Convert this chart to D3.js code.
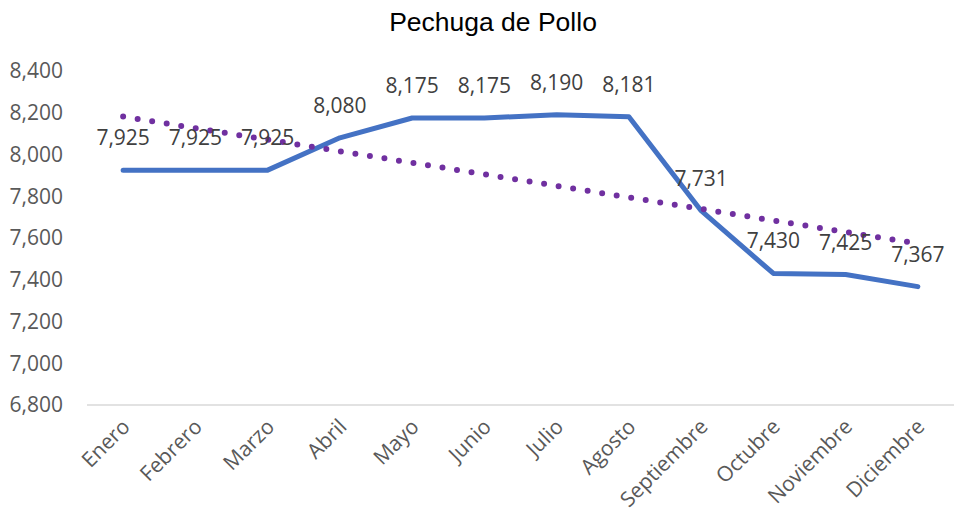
<!DOCTYPE html>
<html>
<head>
<meta charset="utf-8">
<script src="https://cdn.jsdelivr.net/npm/d3@7"></script>
<style>
  body { margin: 0; background: #fff; }
  svg { display: block; }
</style>
</head>
<body>
<svg id="chart"></svg>
<script>
var width = 954;
var height = 512;

var months = ["Enero", "Febrero", "Marzo", "Abril", "Mayo", "Junio", "Julio",
  "Agosto", "Septiembre", "Octubre", "Noviembre", "Diciembre"];
var prices = [7925, 7925, 7925, 8080, 8175, 8175, 8190, 8181, 7731, 7430, 7425, 7367];
var yTicks = [6800, 7000, 7200, 7400, 7600, 7800, 8000, 8200, 8400];

var margin = { top: 71, right: 0, bottom: 107, left: 87 };

var svg = d3.select("#chart")
  .attr("width", width)
  .attr("height", height);

var x = d3.scaleBand()
  .domain(months)
  .range([margin.left, width]);

var y = d3.scaleLinear()
  .domain([6800, 8400])
  .range([height - margin.bottom, margin.top]);

var fmt = d3.format(",");

// title
svg.append("text")
  .attr("x", 493)
  .attr("y", 31)
  .attr("text-anchor", "middle")
  .style("font-family", "'Liberation Sans', Arial, sans-serif")
  .style("font-size", "26.5px")
  .style("fill", "#000")
  .text("Pechuga de Pollo");

// y axis labels
svg.append("g")
  .selectAll("text")
  .data(yTicks)
  .enter()
  .append("text")
  .attr("x", 63)
  .attr("y", function (d) { return y(d); })
  .attr("dy", "0.35em")
  .attr("text-anchor", "end")
  .style("font-family", "'Open Sans', sans-serif")
  .style("font-size", "21px")
  .style("fill", "#595959")
  .text(function (d) { return fmt(d); });

// baseline
svg.append("line")
  .attr("x1", margin.left)
  .attr("x2", width)
  .attr("y1", y(6800))
  .attr("y2", y(6800))
  .attr("stroke", "#d9d9d9")
  .attr("stroke-width", 1.5);

// x labels
svg.append("g")
  .selectAll("text")
  .data(months)
  .enter()
  .append("text")
  .attr("text-anchor", "end")
  .attr("transform", function (d) {
    var cx = x(d) + x.bandwidth() / 2 + 8;
    return "translate(" + cx + "," + 428 + ") rotate(-45)";
  })
  .style("font-family", "'Open Sans', sans-serif")
  .style("font-size", "21px")
  .style("fill", "#595959")
  .text(function (d) { return d; });

var cxOf = function (i) { return x(months[i]) + x.bandwidth() / 2; };

// price line
var line = d3.line()
  .x(function (d, i) { return cxOf(i); })
  .y(function (d) { return y(d); });

svg.append("path")
  .datum(prices)
  .attr("d", line)
  .attr("fill", "none")
  .attr("stroke", "#4472C4")
  .attr("stroke-width", 5)
  .attr("stroke-linecap", "round")
  .attr("stroke-linejoin", "round");

// linear trendline (least squares over the months)
var n = prices.length;
var meanX = (n + 1) / 2;
var meanY = d3.mean(prices);
var sxy = d3.sum(prices, function (d, i) { return (i + 1 - meanX) * (d - meanY); });
var sxx = d3.sum(prices, function (d, i) { return (i + 1 - meanX) * (i + 1 - meanX); });
var slope = sxy / sxx;
var trend = [0, n - 1].map(function (i) {
  return { i: i, v: meanY + slope * (i + 1 - meanX) };
});

svg.append("path")
  .datum(trend)
  .attr("d", d3.line()
    .x(function (d) { return cxOf(d.i); })
    .y(function (d) { return y(d.v); }))
  .attr("fill", "none")
  .attr("stroke", "#7030A0")
  .attr("stroke-width", 6)
  .attr("stroke-linecap", "round")
  .attr("stroke-dasharray", "0 14.7");

// data labels
svg.append("g")
  .selectAll("text")
  .data(prices)
  .enter()
  .append("text")
  .attr("x", function (d, i) { return cxOf(i); })
  .attr("y", function (d) { return y(d) - 25; })
  .attr("text-anchor", "middle")
  .style("font-family", "'Open Sans', sans-serif")
  .style("font-size", "21px")
  .style("fill", "#404040")
  .text(function (d) { return fmt(d); });
</script>
</body>
</html>
